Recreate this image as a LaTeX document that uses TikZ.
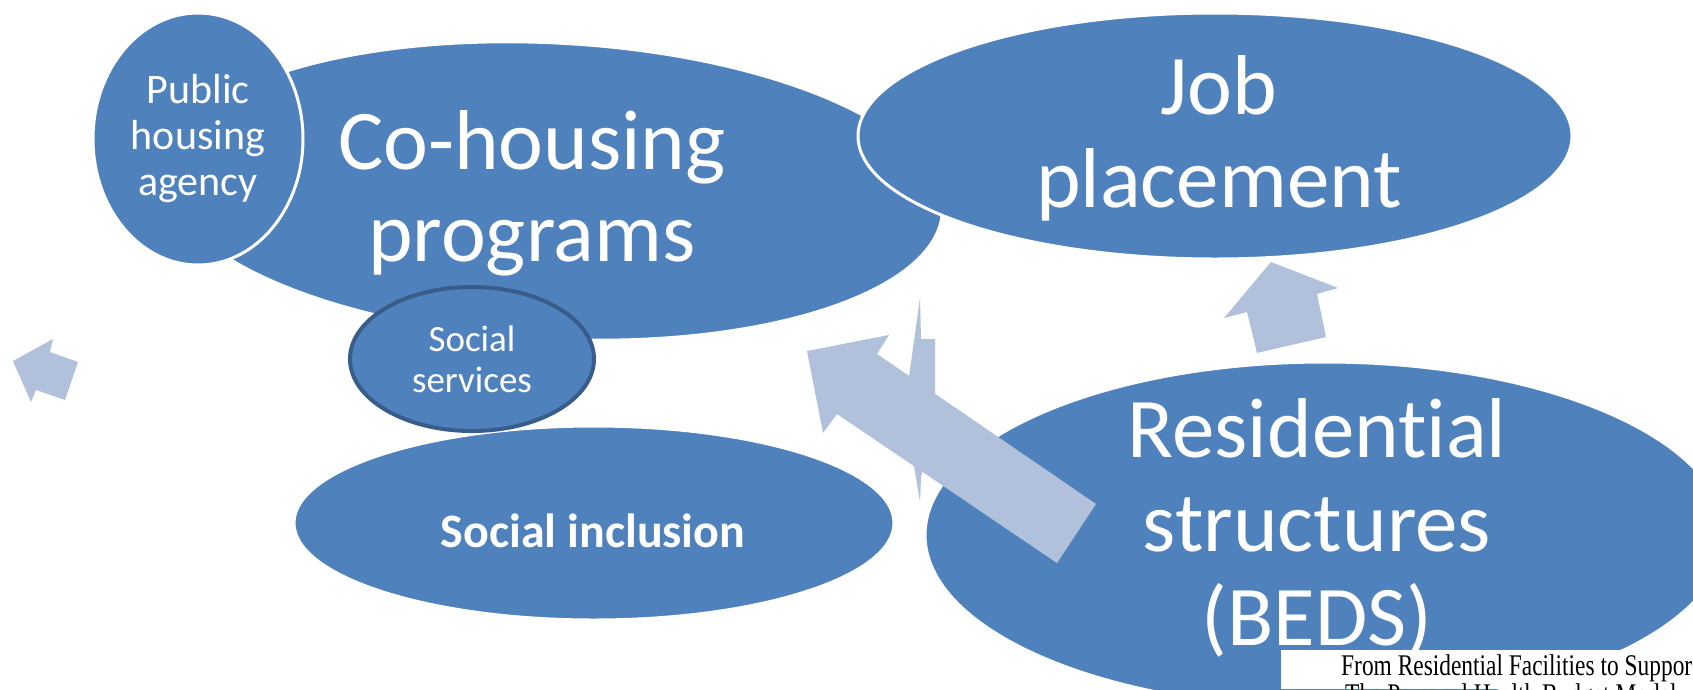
\documentclass[tikz,border=0pt]{standalone}
\usepackage{fontspec}
\setmainfont{Carlito}[Ligatures=NoCommon]
\newfontfamily\capfont{Liberation Serif}
\usetikzlibrary{shapes.geometric}
\definecolor{bubble}{HTML}{4F81BD}
\definecolor{bubbleedge}{HTML}{385D8A}
\definecolor{arrowtint}{HTML}{B2C1DB}
\begin{document}
\begin{tikzpicture}[x=1pt,y=-1pt,
  bubble/.style={ellipse, fill=bubble, draw=white, line width=3pt, inner sep=0pt, outer sep=0pt},
  lbl/.style={text=white, inner sep=0pt, align=center},
  blockarrow/.style={fill=arrowtint}]
% page
\fill[white] (0,0) rectangle (1693,689);
\useasboundingbox (0,0) rectangle (1693,689);

% ellipses, back to front
\node[bubble, rotate=-3, minimum width=780, minimum height=296] (coh) at (553,191) {};
\node[bubble, minimum width=210, minimum height=252] (pha) at (198,139) {};
\node[bubble, minimum width=714, minimum height=246] (job) at (1215,136) {};
\node[bubble, minimum width=600, minimum height=194] (inc) at (594,523) {};
\node[bubble, draw=bubbleedge, line width=4pt, minimum width=244, minimum height=144] (svc) at (472,359) {};
\node[bubble, minimum width=800, minimum height=346] (res) at (1325,535) {};

% labels
\node[lbl, font={\fontsize{42}{46}\selectfont}] (pha-t) at (198,139) {Public\\housing\\agency};
\node[lbl, font={\fontsize{85}{92}\selectfont}] (coh-t) at (532,193) {Co-housing\\programs};
\node[lbl, font={\fontsize{85}{93}\selectfont}] (job-t) at (1219,138) {Job\\placement};
\node[lbl, font={\fontsize{37}{41}\selectfont}] (svc-t) at (472,359) {Social\\services};
\node[lbl, font={\fontsize{48}{56}\selectfont\bfseries}] (inc-t) at (593,531) {Social inclusion};
\node[lbl, font={\fontsize{85}{94}\selectfont}] (res-t) at (1317,528) {Residential\\structures\\(BEDS)};

% block arrows
\fill[blockarrow] (920,298) -- (921,339) -- (935,339) -- (935,398) -- (921,478)
  -- (920,502) -- (914,466) -- (909,377) -- cycle;
\fill[blockarrow] (807,351) -- (889,335) -- (877,354) -- (1096,504) -- (1057,563)
  -- (837,414) -- (823,433) -- cycle;
\fill[blockarrow] (1271,262) -- (1338,288) -- (1317,294) -- (1326,337) -- (1257,353)
  -- (1247,312) -- (1224,318) -- cycle;
\fill[blockarrow] (13,361) -- (53,339) -- (50,352) -- (78,362) -- (65,400)
  -- (36,390) -- (31,402) -- cycle;

% caption strip
\begin{scope}
  \clip (1281,650) rectangle (1693,689);
  \fill[white] (1281,650) rectangle (1693,689);
  \node[anchor=base west, inner sep=0pt, font={\capfont\fontsize{30}{30}\selectfont}] (cap1) at (1341,675)
    {\scalebox{0.78}[1]{From Residential Facilities to Suppor}};
  \node[anchor=base west, inner sep=0pt, font={\capfont\fontsize{30}{30}\selectfont}] (cap2) at (1345,704)
    {\scalebox{0.78}[1]{The Personal Health Budget Model}};
\end{scope}
\end{tikzpicture}
\end{document}
